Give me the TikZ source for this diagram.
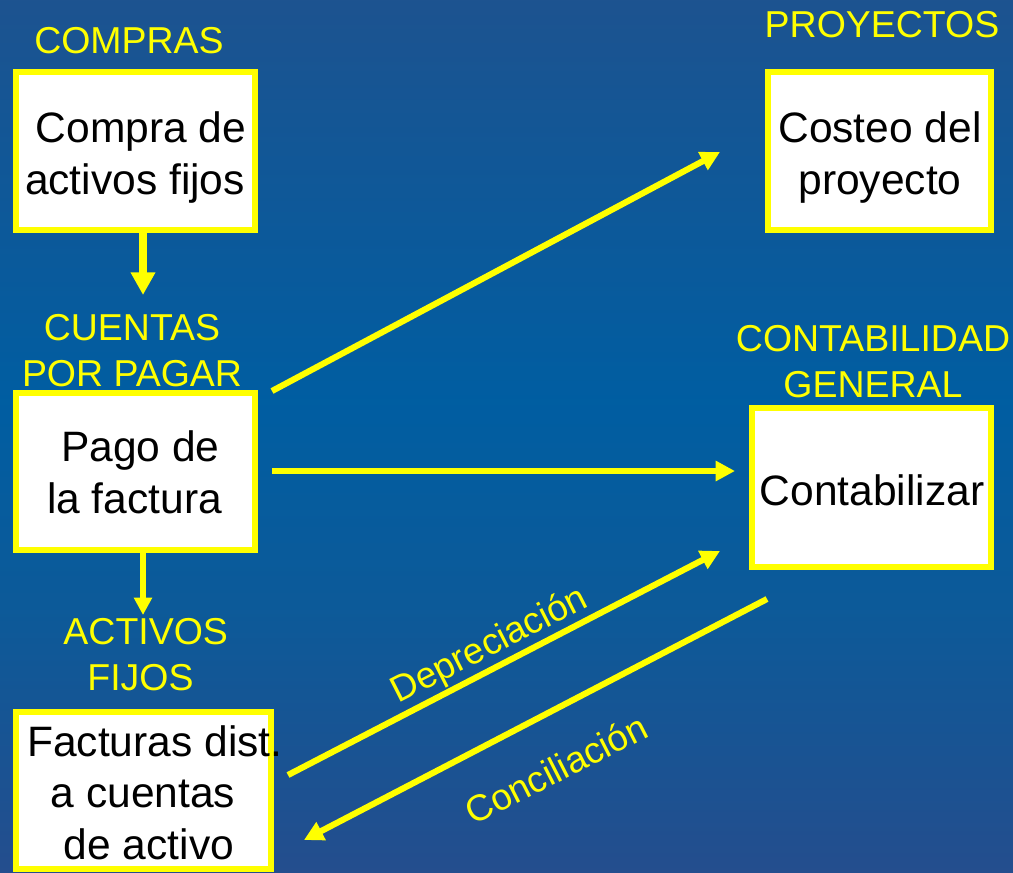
\documentclass[tikz,border=0pt]{standalone}
\usepackage{fontspec}
\setmainfont{Liberation Sans}
\usetikzlibrary{arrows.meta}
\definecolor{yel}{RGB}{255,255,0}
\pgfdeclareverticalshading{bgshade}{100bp}{
  color(0bp)=(rgb:red,37;green,80;blue,146);
  color(25bp)=(rgb:red,37;green,80;blue,146);
  color(40bp)=(rgb:red,14;green,100;blue,170);
  color(52bp)=(rgb:red,0;green,102;blue,176);
  color(75bp)=(rgb:red,31;green,90;blue,156);
  color(100bp)=(rgb:red,31;green,90;blue,156)}
\tikzset{
  x=0.75pt,y=-0.75pt,
  boxnode/.style={draw=yel,fill=white,line width=4.5pt,inner sep=0pt,outer sep=0pt},
  boxtext/.style={text=black,align=center,inner sep=0pt,anchor=base,font=\fontsize{31.9}{38.4}\selectfont},
  lbl/.style={text=yel,align=center,inner sep=0pt,anchor=base,font=\fontsize{28.1}{33.8}\selectfont},
  rotlbl/.style={text=yel,inner sep=0pt,font=\fontsize{27.6}{33}\selectfont,rotate=27},
  flow/.style={draw=yel,line width=4.6pt,-{Triangle[length=14.5pt,width=14.5pt]}},
  flowthick/.style={draw=yel,line width=6pt,-{Triangle[length=17pt,width=17.5pt]}},
  flowthin/.style={draw=yel,line width=4.5pt,-{Triangle[length=13pt,width=13pt]}}
}
\begin{document}
\begin{tikzpicture}
\useasboundingbox (0,0) rectangle (1013,872);
\shade[shading=bgshade] (0,0) rectangle (1013,872);

% boxes
\node[boxnode,minimum width=179.25pt,minimum height=118.5pt] (compra) at (135.5,151) {};
\node[boxnode,minimum width=167.25pt,minimum height=118.5pt] (costeo) at (879.5,151) {};
\node[boxnode,minimum width=179.25pt,minimum height=118pt] (pago) at (135.5,471.5) {};
\node[boxnode,minimum width=179.25pt,minimum height=119pt] (contab) at (871.5,487.5) {};
\node[boxnode,minimum width=191.25pt,minimum height=118pt] (facturas) at (143.5,790.5) {};

% box texts
\node[boxtext] (tcompra) at (135,194) {\hspace*{.278em}Compra de\\activos fijos};
\node[boxtext] (tcosteo) at (880,194) {Costeo del\\proyecto};
\node[boxtext] (tpago) at (134.5,513) {\hspace*{.278em}Pago de\\la factura};
\node[boxtext] (tcontab) at (872,505) {Contabilizar};
\node[boxtext] (tfact) at (143,859) {\hspace*{.556em}Facturas dist.\\a cuentas\\\hspace*{.278em}de activo};

% labels
\node[lbl] (lcompras) at (129,53) {COMPRAS};
\node[lbl] (lproy) at (882,37) {PROYECTOS};
\node[lbl] (lcxp) at (132,386) {CUENTAS\\POR PAGAR};
\node[lbl] (lconta) at (873,397) {CONTABILIDAD\\GENERAL};
\node[lbl] (lactivos) at (140.5,690) {\hspace*{.278em}ACTIVOS\\FIJOS};
\node[rotlbl] (ldep) at (490,646) {Depreciación};
\node[rotlbl] (lcon) at (556,769) {Conciliación};

% free ends of connectors
\coordinate (a1s) at (143,233);
\coordinate (a1e) at (143,295);
\coordinate (a2s) at (143,553);
\coordinate (a2e) at (143,615);
\coordinate (a3s) at (272,391);
\coordinate (a3e) at (720,152);
\coordinate (a4s) at (272,471);
\coordinate (a4e) at (735,471);
\coordinate (a5s) at (288,775);
\coordinate (a5e) at (720,551);
\coordinate (a6s) at (767,599);
\coordinate (a6e) at (304,840);

% connectors
\draw[flowthick] (a1s) -- (a1e);
\draw[flowthin] (a2s) -- (a2e);
\draw[flow] (a3s) -- (a3e);
\draw[flow] (a4s) -- (a4e);
\draw[flow] (a5s) -- (a5e);
\draw[flow] (a6s) -- (a6e);
\end{tikzpicture}
\end{document}
